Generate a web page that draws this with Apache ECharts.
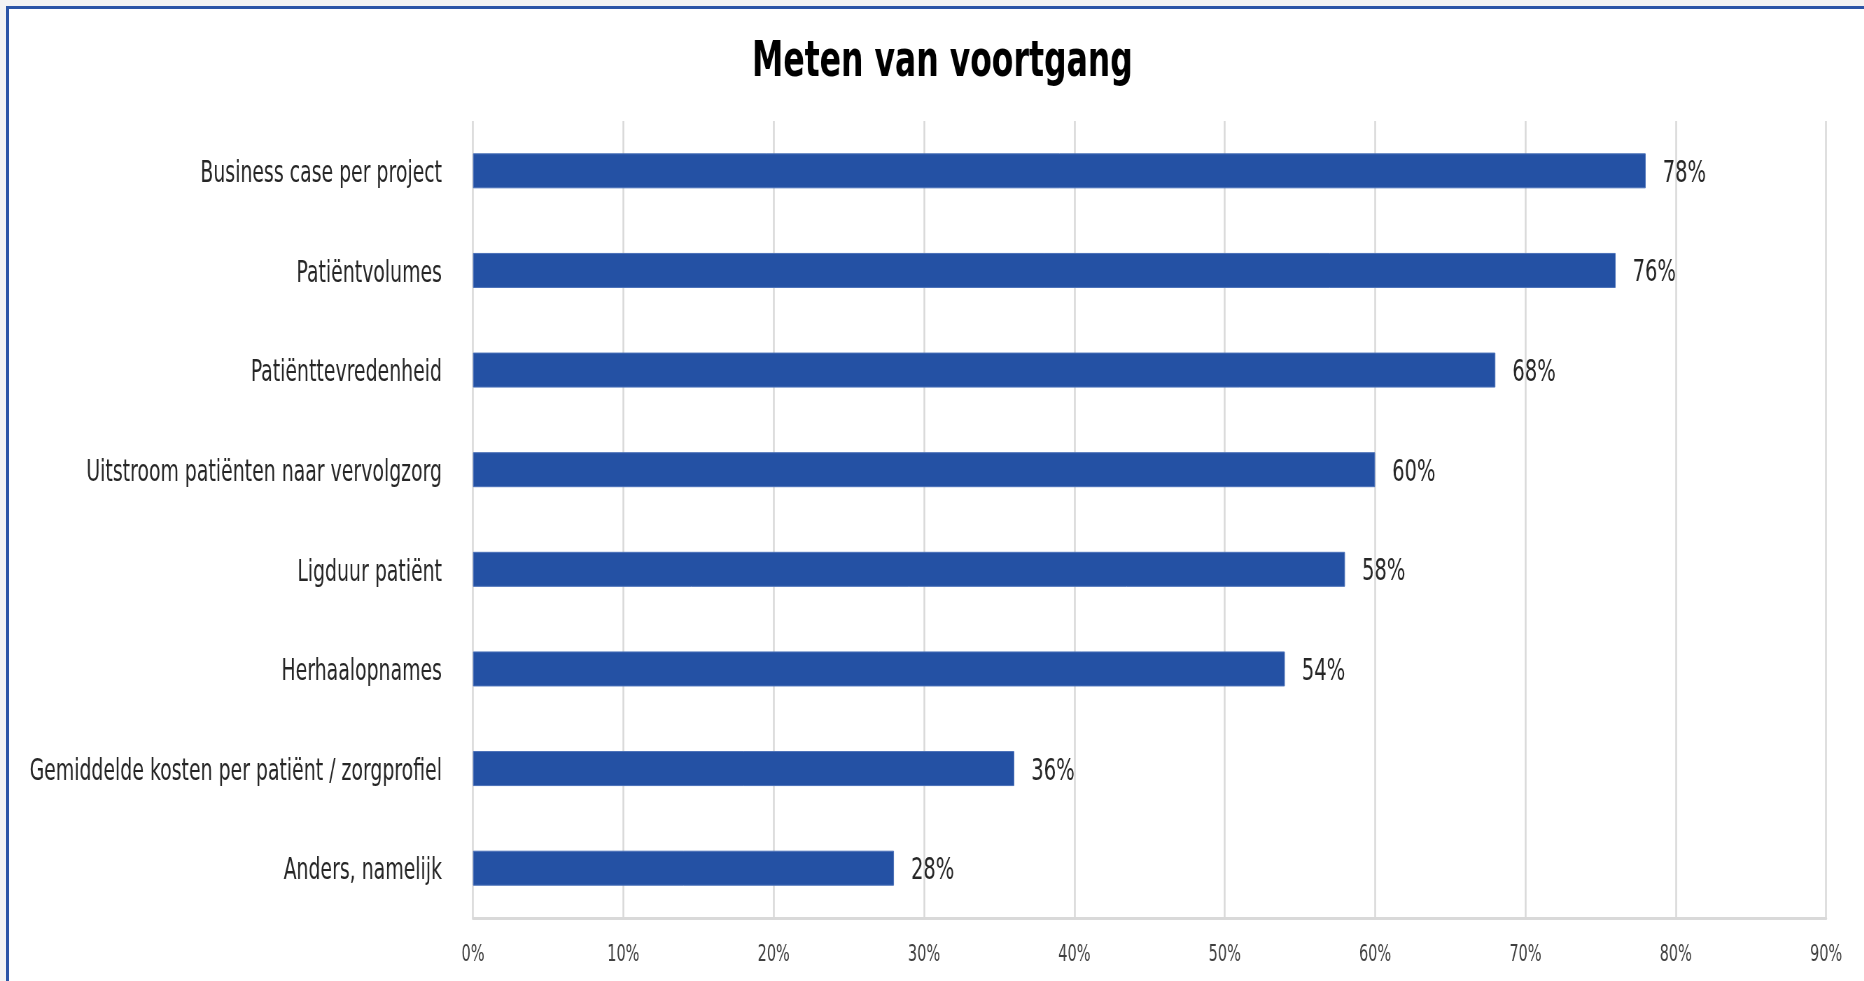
<!DOCTYPE html>
<html>
<head>
<meta charset="utf-8">
<title>Meten van voortgang</title>
<script src="https://cdn.jsdelivr.net/npm/echarts@6/dist/echarts.min.js"></script>
<style>
  html, body { margin: 0; padding: 0; background: #f3f3f3; overflow: hidden; }
  .frame {
    position: absolute; left: 6px; top: 6px; width: 1900px; height: 1000px;
    background: #fff; border-left: 3px solid #2c55a6; border-top: 3px solid #2c55a6;
  }
  /* grafiek breder tekenen en horizontaal samendrukken: smalle (condensed) letters */
  #chart {
    position: absolute; left: 0; top: 0; width: 2663px; height: 981px;
    transform: scaleX(0.7); transform-origin: 0 0;
  }
</style>
</head>
<body>
<div class="frame"></div>
<div id="chart"></div>
<script>
// data
var categories = [
  "Business case per project",
  "Patiëntvolumes",
  "Patiënttevredenheid",
  "Uitstroom patiënten naar vervolgzorg",
  "Ligduur patiënt",
  "Herhaalopnames",
  "Gemiddelde kosten per patiënt / zorgprofiel",
  "Anders, namelijk"
];
var percentages = [78, 76, 68, 60, 58, 54, 36, 28];
var tickValues = [0, 10, 20, 30, 40, 50, 60, 70, 80, 90];

var SQUEEZE = 0.7; // zelfde als scaleX in de css
var font = "'DejaVu Sans Condensed', 'DejaVu Sans', sans-serif";

var chart = echarts.init(document.getElementById("chart"));
var option = {
  backgroundColor: "transparent",
  animation: false,
  title: {
    text: "Meten van voortgang",
    left: 752 / SQUEEZE - 5,
    top: 33,
    textStyle: {
      fontFamily: font,
      fontWeight: "bold",
      fontSize: 50,
      color: "#000"
    }
  },
  grid: {
    left: 473 / SQUEEZE,
    right: 38 / SQUEEZE,
    top: 121,
    bottom: 63,
    outerBoundsMode: "none"
  },
  xAxis: {
    type: "value",
    min: tickValues[0],
    max: tickValues[tickValues.length - 1],
    interval: 10,
    axisLine: {
      show: true,
      onZero: false,
      lineStyle: { color: "#d9d9d9", width: 3 }
    },
    axisTick: { show: false },
    axisLabel: {
      margin: 26,
      fontFamily: font,
      fontSize: 23,
      color: "#404040",
      formatter: "{value}%"
    },
    splitLine: {
      show: true,
      lineStyle: { color: "#d9d9d9", width: 2.5 }
    }
  },
  yAxis: {
    type: "category",
    inverse: true,
    data: categories,
    axisLine: { show: false },
    axisTick: { show: false },
    axisLabel: {
      margin: 31 / SQUEEZE,
      formatter: function (value) {
        return "{c|" + value + "}";
      },
      rich: {
        c: {
          fontFamily: font,
          fontSize: 30,
          color: "#262626",
          padding: [7, 0, 0, 0]
        }
      }
    }
  },
  series: [
    {
      type: "bar",
      data: percentages,
      barWidth: 35, //balkdikte
      itemStyle: {
        color: "#2451a4",
        borderColor: "#4a70b8",
        borderWidth: 1
      },
      label: {
        show: true,
        position: "right",
        distance: 17 / SQUEEZE,
        offset: [0, 3],
        fontFamily: font,
        fontSize: 31,
        color: "#262626",
        formatter: "{c}%"
      }
    }
  ]
};
chart.setOption(option);

window.addEventListener("resize", function () {
  chart.resize();
});
</script>
</body>
</html>
